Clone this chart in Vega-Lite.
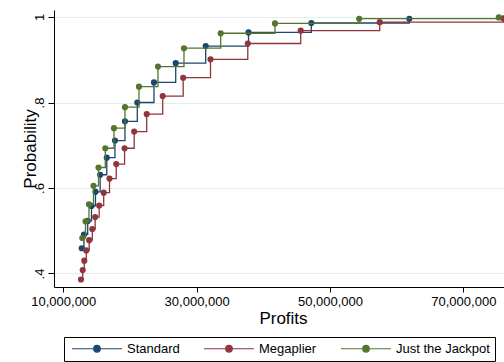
{
  "$schema": "https://vega.github.io/schema/vega-lite/v6.json",
  "width": 450,
  "height": 277,
  "autosize": {"type": "none"},
  "padding": {"left": 54, "top": 10, "right": 0, "bottom": 75},
  "background": "white",
  "config": {
    "view": {"stroke": null},
    "font": "Liberation Sans"
  },
  "data": {
    "values": [
      {"series": "Standard", "profit": 12760000, "prob": 0.459},
      {"series": "Standard", "profit": 13100000, "prob": 0.491},
      {"series": "Standard", "profit": 13660000, "prob": 0.523},
      {"series": "Standard", "profit": 14230000, "prob": 0.558},
      {"series": "Standard", "profit": 14830000, "prob": 0.591},
      {"series": "Standard", "profit": 15530000, "prob": 0.631},
      {"series": "Standard", "profit": 16520000, "prob": 0.671},
      {"series": "Standard", "profit": 17750000, "prob": 0.711},
      {"series": "Standard", "profit": 19250000, "prob": 0.756},
      {"series": "Standard", "profit": 21100000, "prob": 0.800},
      {"series": "Standard", "profit": 23600000, "prob": 0.847},
      {"series": "Standard", "profit": 26860000, "prob": 0.892},
      {"series": "Standard", "profit": 31360000, "prob": 0.932},
      {"series": "Standard", "profit": 37780000, "prob": 0.964},
      {"series": "Standard", "profit": 47200000, "prob": 0.986},
      {"series": "Standard", "profit": 61900000, "prob": 0.996},
      {"series": "Megaplier", "profit": 12650000, "prob": 0.386},
      {"series": "Megaplier", "profit": 12910000, "prob": 0.408},
      {"series": "Megaplier", "profit": 13150000, "prob": 0.430},
      {"series": "Megaplier", "profit": 13450000, "prob": 0.454},
      {"series": "Megaplier", "profit": 13880000, "prob": 0.478},
      {"series": "Megaplier", "profit": 14350000, "prob": 0.504},
      {"series": "Megaplier", "profit": 14780000, "prob": 0.532},
      {"series": "Megaplier", "profit": 15380000, "prob": 0.559},
      {"series": "Megaplier", "profit": 16060000, "prob": 0.589},
      {"series": "Megaplier", "profit": 16930000, "prob": 0.622},
      {"series": "Megaplier", "profit": 17940000, "prob": 0.656},
      {"series": "Megaplier", "profit": 19190000, "prob": 0.693},
      {"series": "Megaplier", "profit": 20630000, "prob": 0.732},
      {"series": "Megaplier", "profit": 22510000, "prob": 0.773},
      {"series": "Megaplier", "profit": 24910000, "prob": 0.815},
      {"series": "Megaplier", "profit": 27980000, "prob": 0.858},
      {"series": "Megaplier", "profit": 32080000, "prob": 0.901},
      {"series": "Megaplier", "profit": 37670000, "prob": 0.938},
      {"series": "Megaplier", "profit": 45610000, "prob": 0.968},
      {"series": "Megaplier", "profit": 57460000, "prob": 0.988},
      {"series": "Megaplier", "profit": 76000000, "prob": 0.997},
      {"series": "Just the Jackpot", "profit": 12850000, "prob": 0.483},
      {"series": "Just the Jackpot", "profit": 13330000, "prob": 0.522},
      {"series": "Just the Jackpot", "profit": 13850000, "prob": 0.562},
      {"series": "Just the Jackpot", "profit": 14530000, "prob": 0.605},
      {"series": "Just the Jackpot", "profit": 15280000, "prob": 0.648},
      {"series": "Just the Jackpot", "profit": 16300000, "prob": 0.693},
      {"series": "Just the Jackpot", "profit": 17600000, "prob": 0.740},
      {"series": "Just the Jackpot", "profit": 19250000, "prob": 0.789},
      {"series": "Just the Jackpot", "profit": 21350000, "prob": 0.837},
      {"series": "Just the Jackpot", "profit": 24200000, "prob": 0.884},
      {"series": "Just the Jackpot", "profit": 28100000, "prob": 0.927},
      {"series": "Just the Jackpot", "profit": 33610000, "prob": 0.962},
      {"series": "Just the Jackpot", "profit": 41750000, "prob": 0.985},
      {"series": "Just the Jackpot", "profit": 54380000, "prob": 0.996},
      {"series": "Just the Jackpot", "profit": 75320000, "prob": 0.999}
    ]
  },
  "encoding": {
    "x": {
      "field": "profit",
      "type": "quantitative",
      "scale": {"domain": [8605000, 76100000], "nice": false, "zero": false},
      "axis": {
        "title": "Profits",
        "values": [10000000, 30000000, 50000000, 70000000],
        "format": ",d",
        "grid": false,
        "domainColor": "black",
        "tickColor": "black",
        "tickSize": 5,
        "labelFontSize": 13,
        "labelColor": "black",
        "labelPadding": 3,
        "labelFlush": false,
        "labelOverlap": false,
        "titleFontSize": 17,
        "titleFontWeight": "normal",
        "titleColor": "black",
        "titleX": 229,
        "titleY": 36,
        "titleAlign": "center",
        "titleBaseline": "alphabetic"
      }
    },
    "y": {
      "field": "prob",
      "type": "quantitative",
      "scale": {"domain": [0.3684, 1.0164], "nice": false, "zero": false},
      "axis": {
        "title": "Probability",
        "values": [0.4, 0.6, 0.8, 1],
        "labelExpr": "datum.value >= 1 ? '1' : substring(format(datum.value, '.1f'), 1)",
        "grid": true,
        "gridColor": "#e3edf0",
        "gridWidth": 1,
        "domainColor": "black",
        "tickColor": "black",
        "tickSize": 6,
        "labelAngle": -90,
        "labelAlign": "center",
        "labelBaseline": "bottom",
        "labelPadding": 2,
        "labelFontSize": 13,
        "labelColor": "black",
        "labelFlush": false,
        "titleFontSize": 17,
        "titleFontWeight": "normal",
        "titleColor": "black",
        "titleAngle": -90,
        "titleX": -19,
        "titleY": 138.5,
        "titleAlign": "center",
        "titleBaseline": "alphabetic"
      }
    },
    "color": {
      "field": "series",
      "type": "nominal",
      "scale": {
        "domain": ["Standard", "Megaplier", "Just the Jackpot"],
        "range": ["#1a476f", "#90353b", "#55752f"]
      },
      "legend": {
        "title": null,
        "orient": "none",
        "legendX": 10,
        "legendY": 327,
        "direction": "horizontal",
        "symbolType": "M-1,0L13.29,0M5.2,0A0.94,0.94,0,1,1,7.08,0A0.94,0.94,0,1,1,5.2,0Z",
        "symbolSize": 49,
        "symbolStrokeWidth": 1.2,
        "labelFontSize": 13,
        "labelColor": "black",
        "labelOffset": 45,
        "columnPadding": 21,
        "padding": 5,
        "strokeColor": "black",
        "encode": {
          "symbols": {
            "update": {
              "stroke": {"scale": "color", "field": "value"},
              "fill": {"scale": "color", "field": "value"},
              "opacity": {"value": 1}
            }
          }
        }
      }
    }
  },
  "layer": [
    {
      "transform": [{"filter": "datum.series === 'Standard'"}],
      "layer": [
        {"mark": {"type": "line", "interpolate": "step-after", "strokeWidth": 1.3}},
        {"mark": {"type": "point", "filled": true, "size": 38, "opacity": 1}}
      ]
    },
    {
      "transform": [{"filter": "datum.series === 'Megaplier'"}],
      "layer": [
        {"mark": {"type": "line", "interpolate": "step-after", "strokeWidth": 1.3}},
        {"mark": {"type": "point", "filled": true, "size": 38, "opacity": 1}}
      ]
    },
    {
      "transform": [{"filter": "datum.series === 'Just the Jackpot'"}],
      "layer": [
        {"mark": {"type": "line", "interpolate": "step-after", "strokeWidth": 1.3}},
        {"mark": {"type": "point", "filled": true, "size": 38, "opacity": 1}}
      ]
    }
  ]
}
